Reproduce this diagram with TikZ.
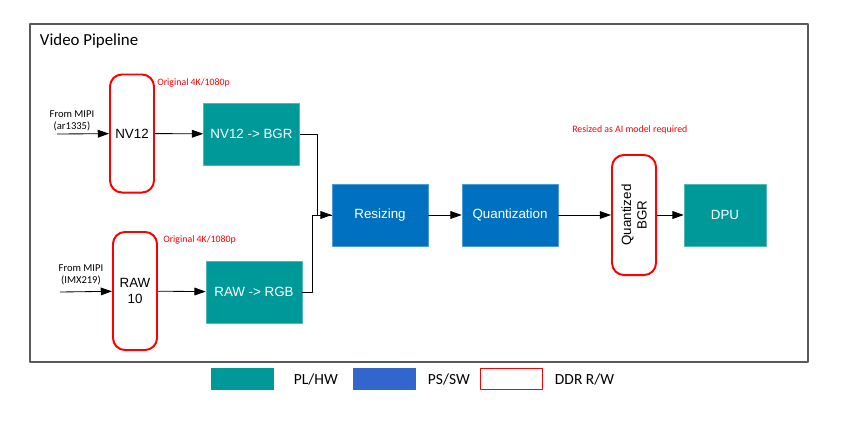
\documentclass[tikz,border=0pt]{standalone}
\usepackage{fontspec}
\setmainfont{Carlito}
\newfontfamily\boxfont{Liberation Sans}
\usetikzlibrary{arrows.meta}
\definecolor{plteal}{RGB}{0,153,153}
\definecolor{psblue}{RGB}{0,112,192}
\definecolor{legblue}{RGB}{51,102,204}
\definecolor{ddrred}{RGB}{255,0,0}
\begin{document}
\begin{tikzpicture}[x=.025cm,y=-.025cm,line join=round,
    hwbox/.style={fill=plteal,draw=plteal!70!white,line width=.4pt,text=white,
      font=\boxfont\fontsize{9.5}{11}\selectfont,minimum width=2.4cm,minimum height=1.55cm},
    swbox/.style={hwbox,fill=psblue,draw=psblue!70!white},
    ddrbox/.style={draw=ddrred,line width=1.4pt,rounded corners=.3cm,
      font=\boxfont\fontsize{9.5}{11}\selectfont,align=center,
      minimum width=1.1cm,minimum height=2.95cm,inner sep=1pt},
    note/.style={text=ddrred,font=\fontsize{7}{8}\selectfont,anchor=west,inner sep=0pt},
    src/.style={font=\fontsize{7.5}{9}\selectfont,align=center,inner sep=0pt},
    flow/.style={-{Triangle[length=8pt,width=5.5pt]},line width=.6pt}]
    \useasboundingbox (0,0) rectangle (845,421);
    \draw[line width=.8pt,black!65] (30,24) rectangle (808,362);
    \node[anchor=west,font=\fontsize{12}{14}\selectfont] (title) at (35,41) {Video Pipeline};
    % first camera
    \coordinate (mipia) at (57,134);
    \node[src] (srca) at (72,121) {From MIPI\\(ar1335)};
    \node[ddrbox] (nv12) at (132,133.5) {NV12};
    \node[note] (origa) at (157,83) {Original 4K/1080p};
    \node[hwbox] (nvbgr) at (251.5,134) {NV12 -> BGR};
    % second camera
    \coordinate (mipib) at (60,292);
    \node[src] (srcb) at (81,275) {From MIPI\\(IMX219)};
    \node[ddrbox] (raw10) at (135,291) {RAW\\10};
    \node[note] (origb) at (163,240) {Original 4K/1080p};
    \node[hwbox] (rawrgb) at (254,292) {RAW -> RGB};
    % common part
    \node[swbox] (resize) at (380,215) {Resizing};
    \node[swbox] (quant) at (510,215) {Quantization};
    \node[ddrbox,minimum height=3cm] (qbgr) at (634,215) {};
    \node[rotate=90,align=center,font=\boxfont\fontsize{9.5}{11}\selectfont] (qbgrtxt) at (qbgr) {Quantized\\BGR};
    \node[note] (aimodel) at (572,130) {Resized as AI model required};
    \node[hwbox,minimum width=2.05cm] (dpu) at (725,215) {DPU};
    \draw[flow] (mipia) -- (nv12);
    \draw[flow] (mipib) -- (raw10);
    \draw[flow] (nv12) -- (nvbgr);
    \draw[flow] (raw10) -- (rawrgb);
    \draw[flow] (nvbgr.east) -- ++(18,0) |- (resize.west);
    \draw[line width=.6pt] (rawrgb.east) -- ++(10,0) |- (resize.west);
    \draw[flow] (resize) -- (quant);
    \draw[flow] (quant) -- (qbgr);
    \draw[flow] (qbgr) -- (dpu);
    % legend
    \node[fill=plteal,minimum width=1.575cm,minimum height=.55cm] (leghw) at (242.5,379) {};
    \node[anchor=west,font=\fontsize{11}{12}\selectfont] (leghwtxt) at (289,379) {PL/HW};
    \node[fill=legblue,minimum width=1.575cm,minimum height=.55cm] (legsw) at (384.5,379) {};
    \node[anchor=west,font=\fontsize{11}{12}\selectfont] (legswtxt) at (423,379) {PS/SW};
    \node[draw=ddrred,line width=.5pt,minimum width=1.55cm,minimum height=.53cm] (legddr) at (511,379) {};
    \node[anchor=west,font=\fontsize{11}{12}\selectfont] (legddrtxt) at (550,379) {DDR R/W};
  \end{tikzpicture}
\end{document}
